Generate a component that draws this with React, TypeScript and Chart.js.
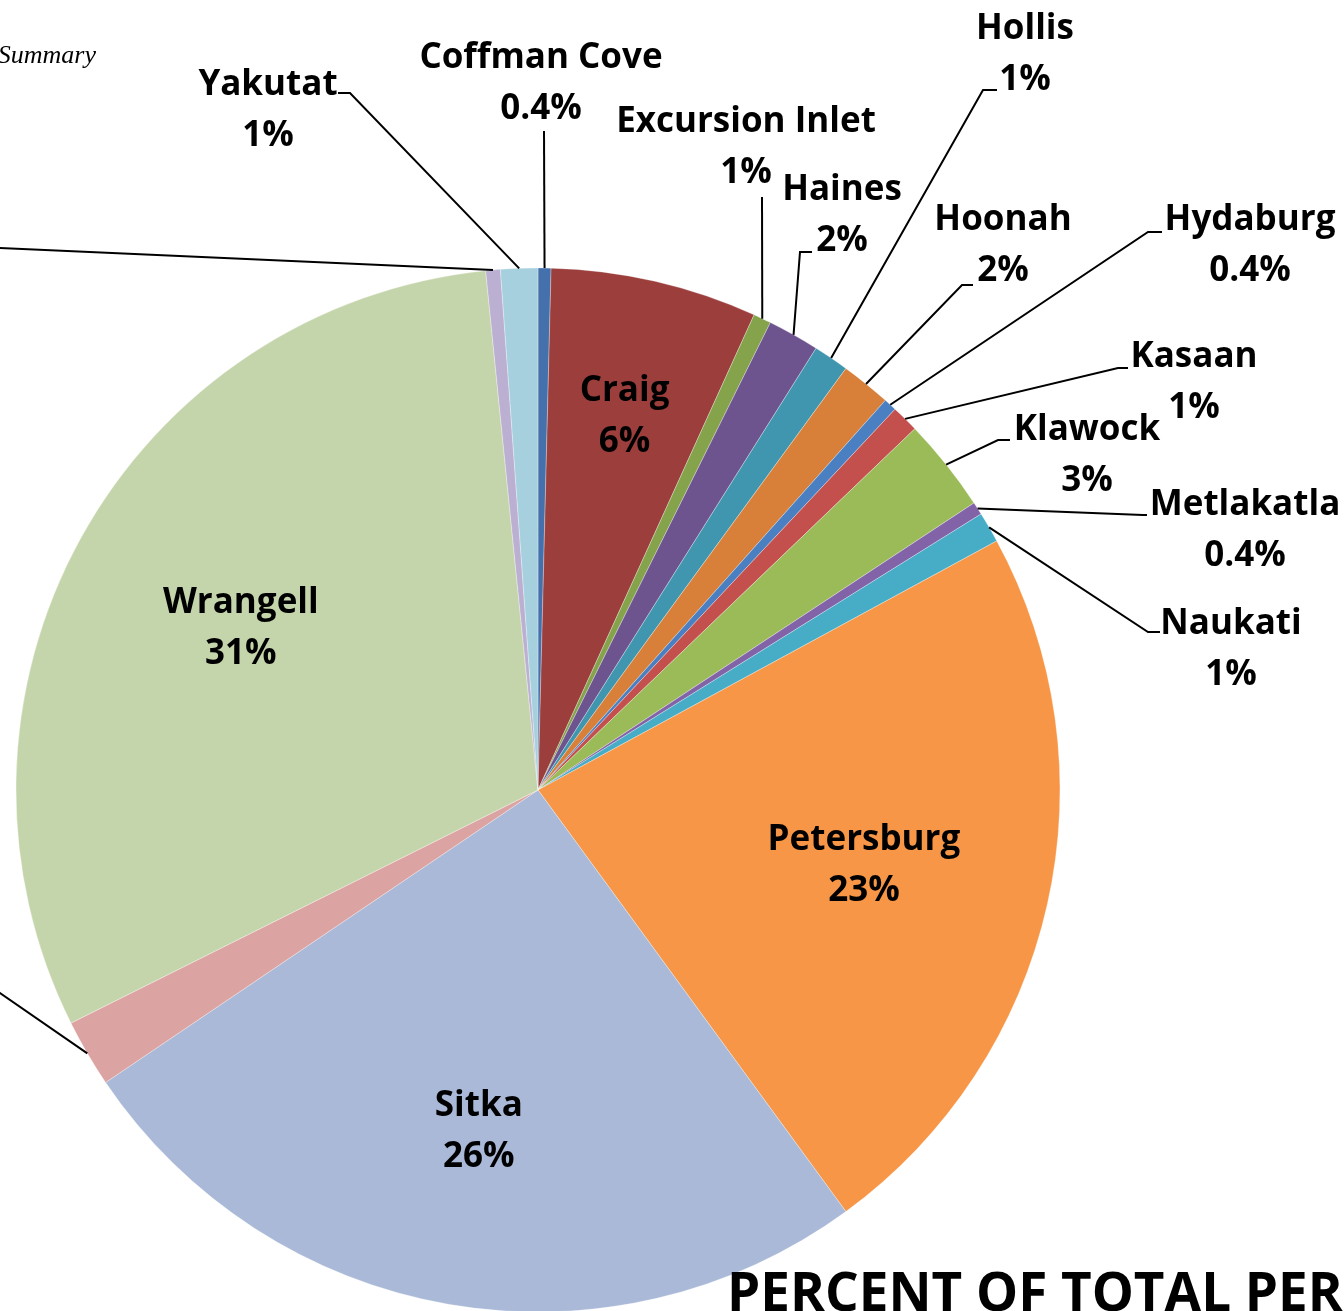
import React, { useEffect, useRef } from "react";
import { Chart, registerables } from "chart.js";

Chart.register(...registerables);

// ---- Data ----
const categories = [
  "Coffman Cove",
  "Craig",
  "Excursion Inlet",
  "Haines",
  "Hollis",
  "Hoonah",
  "Hydaburg",
  "Kasaan",
  "Klawock",
  "Metlakatla",
  "Naukati",
  "Petersburg",
  "Sitka",
  "Thorne Bay",
  "Wrangell",
  "Whale Pass",
  "Yakutat",
];

const shares = [0.4, 6.4, 0.55, 1.6, 1.1, 1.55, 0.4, 0.85, 2.9, 0.4, 0.95, 22.9, 25.6, 2.1, 30.8, 0.45, 1.15];

const sliceColors = [
  "#4470AB",
  "#9C3E3C",
  "#84A34B",
  "#6E548E",
  "#3F96AE",
  "#D8803A",
  "#4A80C2",
  "#C4504D",
  "#9BBB59",
  "#8263A8",
  "#47ACC6",
  "#F79646",
  "#A9B9D7",
  "#DBA3A2",
  "#C5D5AB",
  "#BBB0D1",
  "#A7D0DF",
];

const titleText = "PERCENT OF TOTAL PERMITS";
const noteText = "Summary";

// ---- Layout of labels (not data) ----
type Lay = { inside?: number; text?: [number, number]; path?: [number, number][] };
const labelLayout: Record<string, Lay> = {
  "Coffman Cove": { text: [541, 68], path: [[544, 131]] },
  Craig: { inside: 0.74 },
  "Excursion Inlet": { text: [746, 132], path: [[762, 197]] },
  Haines: { text: [842, 200], path: [[800, 252], [812, 252]] },
  Hollis: { text: [1025, 39], path: [[983, 90], [997, 90]] },
  Hoonah: { text: [1003, 230], path: [[962, 285], [973, 285]] },
  Hydaburg: { text: [1250, 230], path: [[1148, 232], [1162, 232]] },
  Kasaan: { text: [1194, 367], path: [[1118, 368], [1128, 368]] },
  Klawock: { text: [1087, 440], path: [[998, 440], [1010, 440]] },
  Metlakatla: { text: [1245, 515], path: [[1143, 515], [1147, 515]] },
  Naukati: { text: [1231, 634], path: [[1148, 632], [1160, 632]] },
  Petersburg: { inside: 0.64 },
  Sitka: { inside: 0.66 },
  "Thorne Bay": { text: [-140, 985], path: [[0, 993], [-30, 972]] },
  Wrangell: { inside: 0.65 },
  "Whale Pass": { text: [-140, 240], path: [[0, 248], [-20, 247]] },
  Yakutat: { text: [268, 95], path: [[350, 93], [338, 93]] },
};

const LABEL_FONT = "bold 35px 'Open Sans'";
const LINE_GAP = 51;

function pctLabel(v: number, total: number): string {
  const p = (v / total) * 100;
  return p < 0.5 ? p.toFixed(1) + "%" : Math.round(p) + "%";
}

const labelPlugin = {
  id: "pieLabels",
  afterDatasetsDraw(chart: any) {
    const ctx = chart.ctx as CanvasRenderingContext2D;
    const meta = chart.getDatasetMeta(0);
    const data = chart.data.datasets[0].data as number[];
    const total = data.reduce((a, b) => a + b, 0);
    ctx.save();
    ctx.font = LABEL_FONT;
    ctx.fillStyle = "#000";
    ctx.strokeStyle = "#000";
    ctx.lineWidth = 2;
    ctx.textAlign = "center";
    ctx.textBaseline = "alphabetic";
    meta.data.forEach((arc: any, i: number) => {
      const name = chart.data.labels[i] as string;
      const lay = labelLayout[name];
      if (!lay) return;
      const { x, y, startAngle, endAngle, outerRadius } = arc.getProps(
        ["x", "y", "startAngle", "endAngle", "outerRadius"],
        true
      );
      const mid = (startAngle + endAngle) / 2;
      const pct = pctLabel(data[i], total);
      if (lay.inside !== undefined) {
        const r = outerRadius * lay.inside;
        const cx = x + Math.cos(mid) * r;
        const cy = y + Math.sin(mid) * r;
        ctx.fillText(name, cx, cy - 13);
        ctx.fillText(pct, cx, cy - 13 + LINE_GAP);
      } else if (lay.text && lay.path) {
        const ex = x + Math.cos(mid) * outerRadius;
        const ey = y + Math.sin(mid) * outerRadius;
        ctx.beginPath();
        ctx.moveTo(ex, ey);
        lay.path.forEach((p) => ctx.lineTo(p[0], p[1]));
        ctx.stroke();
        ctx.fillText(name, lay.text[0], lay.text[1]);
        ctx.fillText(pct, lay.text[0], lay.text[1] + LINE_GAP);
      }
    });
    ctx.restore();
  },
};

export default function App() {
  const ref = useRef<HTMLCanvasElement | null>(null);

  useEffect(() => {
    if (!ref.current) return;
    const chart = new Chart(ref.current, {
      type: "pie",
      data: {
        labels: categories,
        datasets: [
          {
            data: shares,
            backgroundColor: sliceColors,
            borderColor: "rgba(255,255,255,0.5)",
            borderWidth: 0.6,
            radius: 522,
          } as any,
        ],
      },
      options: {
        responsive: false,
        animation: false,
        rotation: 0,
        layout: { padding: { left: 0, right: 268, top: 269, bottom: 0 } },
        plugins: {
          legend: { display: false },
          tooltip: { enabled: false },
          title: { display: false },
        },
      } as any,
      plugins: [labelPlugin],
    });
    return () => chart.destroy();
  }, []);

  return (
    <div
      style={{
        position: "fixed",
        left: 0,
        top: 0,
        width: 1344,
        height: 1311,
        overflow: "hidden",
        background: "#fff",
      }}
    >
      <canvas ref={ref} width={1344} height={1311} style={{ position: "absolute", left: 0, top: 0 }} />
      <div
        style={{
          position: "absolute",
          right: 1344 - 96,
          top: 40,
          fontFamily: "'Liberation Serif', serif",
          fontStyle: "italic",
          fontSize: 26,
          lineHeight: "30px",
          whiteSpace: "nowrap",
          color: "#000",
        }}
      >
        {noteText}
      </div>
      <div
        style={{
          position: "absolute",
          left: 727,
          top: 1256,
          fontFamily: "'Open Sans', sans-serif",
          fontWeight: 700,
          fontSize: 53,
          lineHeight: "70px",
          whiteSpace: "nowrap",
          color: "#000",
        }}
      >
        {titleText}
      </div>
    </div>
  );
}
